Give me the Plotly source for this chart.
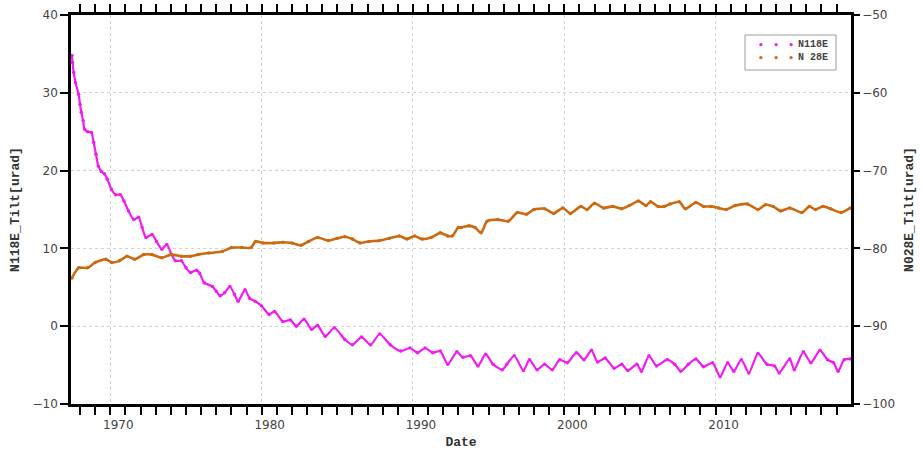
import plotly.graph_objects as go

# ---- data ----
n118e_year = [1967.46, 1967.50, 1967.58, 1967.70, 1967.90, 1968.00, 1968.08, 1968.20, 1968.30, 1968.50,
              1968.75, 1968.90, 1969.05, 1969.20, 1969.40, 1969.60, 1969.80, 1970.07, 1970.35, 1970.66,
              1970.90, 1971.20, 1971.55, 1971.87, 1972.10, 1972.35, 1972.75, 1973.05, 1973.40, 1973.73,
              1974.05, 1974.30, 1974.70, 1975.00, 1975.30, 1975.70, 1975.90, 1976.20, 1976.75, 1977.00,
              1977.26, 1977.55, 1977.90, 1978.20, 1978.45, 1978.90, 1979.20, 1979.57, 1980.00, 1980.50,
              1980.85, 1981.40, 1981.90, 1982.30, 1982.80, 1983.30, 1983.70, 1984.20, 1984.80, 1985.50,
              1986.00, 1986.60, 1987.20, 1987.80, 1988.50, 1989.20, 1989.80, 1990.30, 1990.80, 1991.30,
              1991.80, 1992.30, 1992.90, 1993.30, 1993.80, 1994.30, 1994.80, 1995.30, 1995.90, 1996.20,
              1996.70, 1997.30, 1997.70, 1998.20, 1998.70, 1999.20, 1999.70, 2000.20, 2000.80, 2001.30,
              2001.80, 2002.20, 2002.70, 2003.30, 2003.80, 2004.20, 2004.80, 2005.10, 2005.60, 2006.10,
              2006.80, 2007.30, 2007.70, 2008.20, 2008.70, 2009.20, 2009.80, 2010.30, 2010.80, 2011.20,
              2011.70, 2012.20, 2012.80, 2013.40, 2013.90, 2014.20, 2014.90, 2015.20, 2015.80, 2016.30,
              2016.90, 2017.40, 2017.80, 2018.10, 2018.50, 2018.90]
n118e_tilt = [34.8, 33.9, 32.6, 31.3, 29.8, 28.5, 27.5, 26.4, 25.3, 25.0,
              24.9, 23.6, 22.1, 20.6, 19.9, 19.6, 18.9, 17.6, 16.9, 16.9,
              16.1, 14.8, 13.7, 14.0, 12.7, 11.4, 11.8, 10.9, 9.9, 10.5,
              9.2, 8.4, 8.4, 7.5, 6.9, 7.2, 6.8, 5.6, 5.1, 4.5,
              3.9, 4.3, 5.1, 4.1, 3.2, 4.7, 3.6, 3.2, 2.6, 1.5,
              1.9, 0.6, 0.8, 0.0, 0.9, -0.4, 0.1, -1.3, -0.2, -1.7,
              -2.4, -1.4, -2.4, -1.0, -2.4, -3.2, -2.8, -3.4, -2.8, -3.4,
              -3.2, -4.9, -3.3, -4.0, -3.8, -5.1, -3.6, -4.9, -5.6, -4.9,
              -3.8, -5.7, -4.3, -5.6, -4.9, -5.6, -4.3, -4.7, -3.4, -4.3,
              -3.1, -4.6, -4.1, -5.4, -4.9, -5.7, -4.9, -5.8, -3.8, -5.1,
              -4.3, -4.9, -5.8, -4.9, -4.2, -5.2, -4.7, -6.5, -4.7, -5.8,
              -4.3, -6.0, -3.5, -4.9, -5.1, -6.0, -4.2, -5.6, -3.3, -4.7,
              -3.1, -4.3, -4.7, -5.8, -4.3, -4.2]

n028e_year = [1967.46, 1967.90, 1968.50, 1969.00, 1969.70, 1970.10, 1970.60, 1971.10, 1971.60, 1972.20,
              1972.75, 1973.40, 1974.00, 1974.70, 1975.30, 1975.80, 1976.50, 1977.40, 1978.00, 1978.70,
              1979.30, 1979.60, 1980.10, 1980.80, 1981.40, 1982.00, 1982.60, 1983.10, 1983.70, 1984.40,
              1985.00, 1985.50, 1986.00, 1986.50, 1987.10, 1987.80, 1988.45, 1989.10, 1989.60, 1990.10,
              1990.60, 1991.20, 1991.80, 1992.30, 1992.60, 1993.00, 1993.20, 1993.70, 1994.10, 1994.50,
              1994.90, 1995.60, 1996.30, 1996.90, 1997.50, 1998.00, 1998.70, 1999.30, 1999.90, 2000.40,
              2001.10, 2001.50, 2002.00, 2002.60, 2003.20, 2003.80, 2004.30, 2004.90, 2005.40, 2005.70,
              2006.20, 2006.60, 2007.00, 2007.60, 2008.00, 2008.70, 2009.20, 2009.70, 2010.20, 2010.70,
              2011.30, 2012.10, 2012.80, 2013.30, 2013.80, 2014.30, 2014.90, 2015.70, 2016.20, 2016.60,
              2017.10, 2017.60, 2018.30, 2018.90]
n028e_tilt = [-83.8, -82.5, -82.5, -81.8, -81.4, -81.8, -81.6, -81.0, -81.4, -80.8,
              -80.8, -81.2, -80.8, -81.0, -81.0, -80.8, -80.6, -80.4, -79.9, -79.9,
              -79.9, -79.1, -79.3, -79.3, -79.2, -79.3, -79.6, -79.1, -78.6, -79.0,
              -78.7, -78.5, -78.8, -79.3, -79.1, -79.0, -78.7, -78.4, -78.8, -78.4,
              -78.8, -78.6, -78.0, -78.4, -78.4, -77.3, -77.3, -77.1, -77.3, -78.0,
              -76.5, -76.3, -76.5, -75.4, -75.6, -75.0, -74.9, -75.5, -74.8, -75.5,
              -74.6, -75.0, -74.2, -74.8, -74.6, -74.9, -74.5, -73.9, -74.5, -74.0,
              -74.6, -74.6, -74.3, -74.0, -74.9, -74.1, -74.6, -74.6, -74.8, -75.0,
              -74.5, -74.3, -75.0, -74.4, -74.6, -75.2, -74.8, -75.4, -74.6, -75.0,
              -74.6, -74.9, -75.4, -74.8]

series_names = ["N118E", "N 28E"]
x_ticks = [1970, 1980, 1990, 2000, 2010]
y_left_ticks = [-10, 0, 10, 20, 30, 40]
y_right_ticks = [-100, -90, -80, -70, -60, -50]

PINK = "#f01cf0"
ORANGE = "#cc6a12"
MONO = "Liberation Mono"
SANS = "DejaVu Sans"

fig = go.Figure()
fig.add_trace(go.Scatter(x=n118e_year, y=n118e_tilt, mode="lines+markers", name=series_names[0],
                         line=dict(color=PINK, width=2.2, shape="spline", smoothing=0.6),
                         marker=dict(color=PINK, size=3.5),
                         showlegend=False))
fig.add_trace(go.Scatter(x=n028e_year, y=n028e_tilt, mode="lines+markers", yaxis="y2",
                         name=series_names[1],
                         line=dict(color=ORANGE, width=2.6, shape="spline", smoothing=0.6),
                         marker=dict(color=ORANGE, size=3.5),
                         showlegend=False))

# ---- compact legend box (drawn in paper coordinates) ----
L, R, T, B = 71, 851, 15, 404        # plot area in pixels
def px(x):
    return (x - L) / (R - L)
def py(y):
    return 1 - (y - T) / (B - T)

shapes = [dict(type="rect", xref="paper", yref="paper",
               x0=px(745), x1=px(836), y0=py(70), y1=py(35),
               line=dict(color="#9a9a9a", width=1), fillcolor="white", layer="above")]
annotations = []
for i, (name, col) in enumerate(zip(series_names, [PINK, ORANGE])):
    yy = 45 + i * 13
    annotations.append(dict(xref="paper", yref="paper", x=px(776), y=py(yy),
                            text="<b>•   •   •</b>", showarrow=False, xanchor="center", yanchor="middle",
                            font=dict(family=SANS, size=9, color=col)))
    annotations.append(dict(xref="paper", yref="paper", x=px(796), y=py(yy),
                            text="<b>" + name.replace(" ", "&nbsp;") + "</b>", showarrow=False,
                            xanchor="left", yanchor="middle",
                            font=dict(family=MONO, size=10, color="#444444")))

fig.update_layout(
    width=921, height=452,
    margin=dict(l=L, r=921 - R, t=T, b=452 - B, autoexpand=False),
    paper_bgcolor="white", plot_bgcolor="white",
    showlegend=False,
    shapes=shapes, annotations=annotations,
    xaxis=dict(range=[1967.4, 2018.95], tickvals=x_ticks, ticks="outside", ticklen=8,
               tickwidth=1.5, tickcolor="black", ticklabelshift=8, automargin=False,
               minor=dict(dtick=1, ticks="outside", ticklen=4, tickcolor="black", showgrid=False),
               showline=True, linecolor="black", linewidth=2.5, mirror="allticks",
               showgrid=True, gridcolor="#d2d2d2", griddash="dot", gridwidth=1,
               zeroline=False,
               tickfont=dict(family=SANS, size=12, color="#444444"),
               title=dict(text="<b>Date</b>", font=dict(family=MONO, size=13, color="#333333"),
                          standoff=6)),
    yaxis=dict(range=[-10, 40], tickvals=y_left_ticks, ticks="outside", ticklen=8,
               tickwidth=1.5, tickcolor="black", automargin=False,
               showline=True, linecolor="black", linewidth=2.5, mirror=False,
               showgrid=True, gridcolor="#d2d2d2", griddash="dot", gridwidth=1,
               zeroline=False,
               tickfont=dict(family=SANS, size=12, color="#444444"),
               title=dict(text="<b>N118E_Tilt[urad]</b>",
                          font=dict(family=MONO, size=13, color="#333333"), standoff=10)),
    yaxis2=dict(range=[-100, -50], tickvals=y_right_ticks, overlaying="y", side="right",
                ticks="outside", ticklen=6, tickwidth=1.5, tickcolor="black", automargin=False,
                showline=True, linecolor="black", linewidth=2.5,
                showgrid=False, zeroline=False,
                tickfont=dict(family=SANS, size=12, color="#444444"),
                title=dict(text="<b>N028E_Tilt[urad]</b>",
                           font=dict(family=MONO, size=13, color="#333333"), standoff=10)),
)

fig.write_html("out.html")
